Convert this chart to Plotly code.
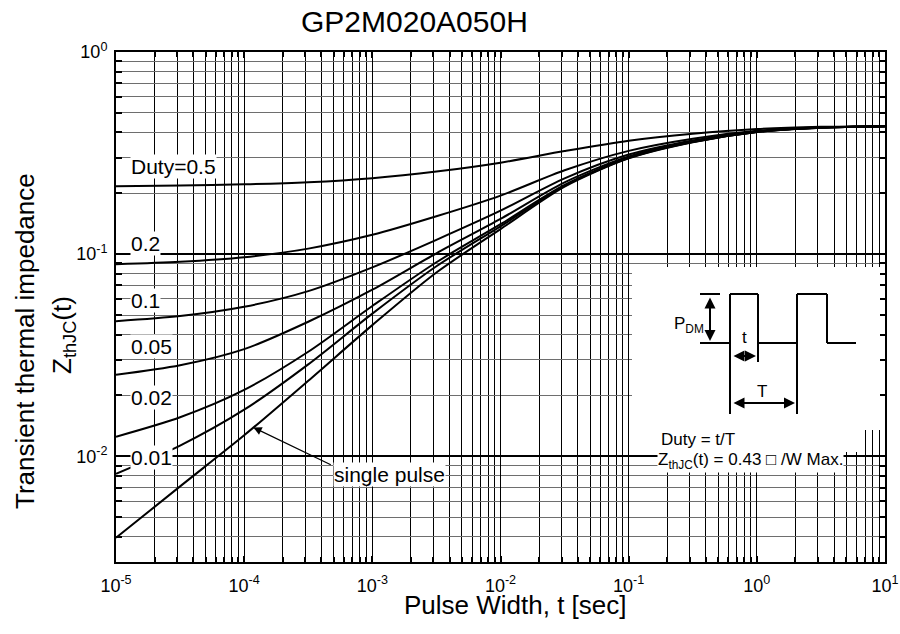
import plotly.graph_objects as go

# ---------------- data ----------------
pulse_width = [1e-5, 3.162e-5, 1e-4, 3.162e-4, 1e-3, 3.162e-3, 1e-2,
               3.162e-2, 1e-1, 3.162e-1, 1e0, 3.162e0, 1e1]

z_duty_05 = [0.217, 0.2186, 0.2214, 0.2268, 0.2375, 0.2562, 0.2835,
             0.3235, 0.364, 0.394, 0.4158, 0.4262, 0.4298]
z_duty_02 = [0.0892, 0.0917, 0.0966, 0.1065, 0.1246, 0.1539, 0.1947,
             0.2599, 0.3242, 0.3724, 0.4073, 0.4239, 0.4296]
z_duty_01 = [0.0466, 0.0494, 0.0549, 0.0656, 0.0860, 0.1177, 0.1640,
             0.2371, 0.3109, 0.3652, 0.4044, 0.4232, 0.4296]
z_duty_005 = [0.0253, 0.0282, 0.0339, 0.0463, 0.0667, 0.1010, 0.1493,
              0.2264, 0.3043, 0.3616, 0.4030, 0.4228, 0.4295]
z_duty_002 = [0.0125, 0.0156, 0.0213, 0.0329, 0.0554, 0.0912, 0.1406,
              0.2200, 0.3003, 0.3594, 0.4022, 0.4226, 0.4295]
z_duty_001 = [0.0082, 0.0113, 0.0170, 0.0285, 0.0508, 0.0871, 0.1373,
              0.2178, 0.2990, 0.3587, 0.4019, 0.4225, 0.4295]
z_single = [0.00395, 0.0071, 0.0127, 0.02364, 0.04455, 0.0811, 0.1330,
            0.2157, 0.2977, 0.3580, 0.4016, 0.4224, 0.4295]

series = [("Duty=0.5", z_duty_05), ("0.2", z_duty_02), ("0.1", z_duty_01),
          ("0.05", z_duty_005), ("0.02", z_duty_002), ("0.01", z_duty_001),
          ("single pulse", z_single)]

curve_labels = ["Duty=0.5", "0.2", "0.1", "0.05", "0.02", "0.01"]
curve_label_y = [166, 243, 300, 347, 397, 457]   # page rows of the labels

x_tickvals = [1e-5, 1e-4, 1e-3, 1e-2, 1e-1, 1e0, 1e1]
x_ticktext = ["10<sup>-5</sup>", "10<sup>-4</sup>", "10<sup>-3</sup>",
              "10<sup>-2</sup>", "10<sup>-1</sup>", "10<sup>0</sup>",
              "10<sup>1</sup>"]
y_tickvals = [1e-2, 1e-1, 1e0]
y_ticktext = ["10<sup>-2</sup>", "10<sup>-1</sup>", "10<sup>0</sup>"]

title_text = "GP2M020A050H"
x_title = "Pulse Width, t [sec]"
y_title_1 = "Transient thermal impedance"
y_title_2 = "Z<sub>thJC</sub>(t)"

# ---------------- layout geometry ----------------
W, H = 900, 634
L, T = 116, 52
R = W - 885
B = H - 562
PW, PH = W - L - R, H - T - B
FONT = "Arial, Liberation Sans, sans-serif"


def px(x):
    return (x - L) / PW


def py(y):
    return (H - B - y) / PH


fig = go.Figure()
for name, z in series:
    fig.add_trace(go.Scatter(
        x=pulse_width, y=z, mode="lines", name=name,
        line=dict(color="black", width=2, shape="spline", smoothing=0.8),
        showlegend=False, hoverinfo="skip"))

fig.update_xaxes(
    type="log", range=[-5, 1], tickmode="array", tickvals=x_tickvals,
    ticktext=x_ticktext, ticklabelstandoff=6, ticklabeloverflow="allow",
    showgrid=True, gridcolor="black", gridwidth=1.2,
    ticks="inside", ticklen=6, tickwidth=1.5, tickcolor="black",
    showline=True, linecolor="black", linewidth=2, mirror="allticks",
    tickfont=dict(size=18, color="black", family=FONT), zeroline=False,
    minor=dict(dtick="D1", showgrid=True, gridcolor="black", gridwidth=1.1,
               ticks="inside", ticklen=5, tickwidth=1.5, tickcolor="black"))
fig.update_yaxes(
    type="log", range=[-2.5229, 0], tickmode="array", tickvals=y_tickvals,
    ticktext=y_ticktext, ticklabelstandoff=3, ticklabeloverflow="allow",
    showgrid=True, gridcolor="black", gridwidth=2,
    ticks="inside", ticklen=7, tickwidth=2, tickcolor="black",
    showline=True, linecolor="black", linewidth=2, mirror="allticks",
    tickfont=dict(size=18, color="black", family=FONT), zeroline=False,
    minor=dict(dtick="D1", showgrid=True, gridcolor="#6e6e6e", gridwidth=1,
               ticks="inside", ticklen=6, tickwidth=2, tickcolor="black"))

shapes = []
# white inset background
shapes.append(dict(type="rect", xref="paper", yref="paper",
                   x0=px(632), x1=px(880), y0=py(430), y1=py(267),
                   fillcolor="white", line=dict(width=0), layer="above"))
shapes.append(dict(type="rect", xref="paper", yref="paper",
                   x0=px(632), x1=px(863), y0=py(452), y1=py(430),
                   fillcolor="white", line=dict(width=0), layer="above"))


def seg(x0, y0, x1, y1, w=2):
    shapes.append(dict(type="line", xref="paper", yref="paper",
                       x0=px(x0), y0=py(y0), x1=px(x1), y1=py(y1),
                       line=dict(color="black", width=w), layer="above"))


# pulse waveform of the inset
seg(700, 343, 730, 343)
seg(730, 343, 730, 294)
seg(730, 294, 758, 294)
seg(758, 294, 758, 343)
seg(758, 343, 797, 343)
seg(797, 343, 797, 294)
seg(797, 294, 827, 294)
seg(827, 294, 827, 343)
seg(827, 343, 856, 343)
seg(700, 294, 720, 294)
seg(730, 343, 730, 414)
seg(758, 343, 758, 362)
seg(797, 343, 797, 414)

annotations = []


def darrow(x0, y0, x1, y1):
    annotations.append(dict(
        xref="paper", yref="paper", x=px(x1), y=py(y1),
        ax=x0 - x1, ay=y0 - y1, axref="pixel", ayref="pixel",
        text="", showarrow=True, arrowside="end+start",
        arrowhead=2, startarrowhead=2, arrowsize=1.1, startarrowsize=1.1,
        arrowwidth=2, arrowcolor="black"))


darrow(710, 296, 710, 341)
darrow(732, 356, 756, 356)
darrow(732, 403, 795, 403)


def label(text, x, y, size, xanchor="center", bg=None, angle=0):
    d = dict(xref="paper", yref="paper", x=px(x), y=py(y), text=text,
             showarrow=False, xanchor=xanchor, yanchor="middle",
             textangle=angle,
             font=dict(size=size, color="black", family=FONT), borderpad=0)
    if bg:
        d["bgcolor"] = bg
    annotations.append(d)


label("P<sub>DM</sub>", 689, 325, 17)
label("t", 744, 337, 17)
label("T", 762, 391, 17)
label("Duty = t/T", 660, 439, 17, xanchor="left")
label("Z<sub>thJC</sub>(t) = 0.43 \u25a1 /W Max.", 657, 461, 17,
      xanchor="left", bg="white")

for txt, yy in zip(curve_labels, curve_label_y):
    label(txt, 130, yy, 21, xanchor="left", bg="white")

# single pulse pointer
annotations.append(dict(
    xref="x", yref="y", x=-3.929, y=-1.857, ax=79, ay=38,
    axref="pixel", ayref="pixel", text="", showarrow=True,
    arrowhead=2, arrowsize=1.4, arrowwidth=1.2, arrowcolor="black"))
label("single pulse", 333, 475, 21, xanchor="left", bg="white")

# titles
label(title_text, 414, 22, 30)
label(x_title, 515, 605, 26)
label(y_title_1, 25, 341, 26, angle=-90)
label(y_title_2, 63, 335, 26, angle=-90)

fig.update_layout(
    width=W, height=H, margin=dict(l=L, r=R, t=T, b=B, autoexpand=False),
    paper_bgcolor="white", plot_bgcolor="white",
    font=dict(family=FONT, color="black"),
    shapes=shapes, annotations=annotations, showlegend=False)

fig.write_html(
    "out.html",
    config={"displayModeBar": False},
    post_script="document.body.style.margin='0px';"
                "document.body.style.overflow='hidden';")
